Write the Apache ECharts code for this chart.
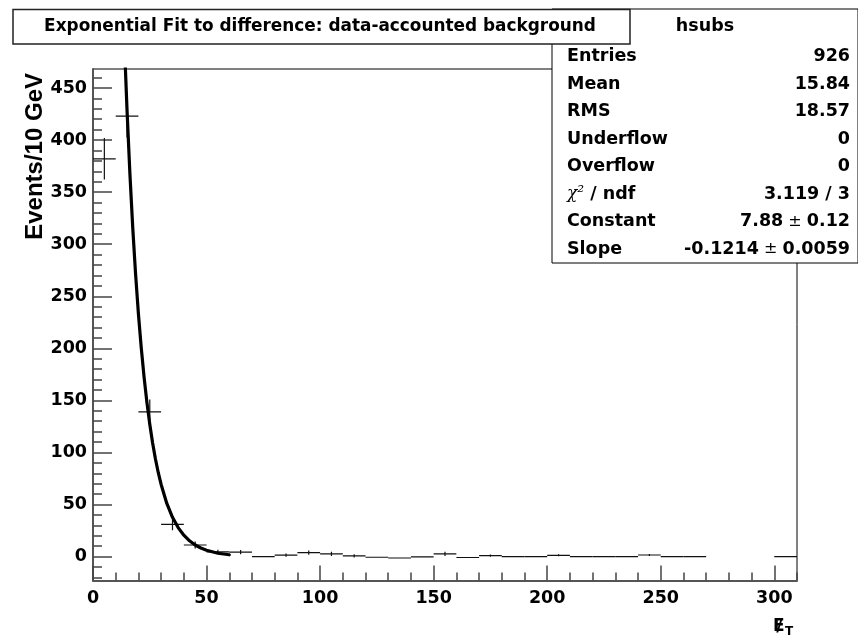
<!DOCTYPE html>
<html>
<head>
<meta charset="utf-8">
<script src="https://cdn.jsdelivr.net/npm/echarts@6/dist/echarts.min.js"></script>
<style>
html,body{margin:0;padding:0;background:#fff;}
#chart{width:858px;height:637px;}
</style>
</head>
<body>
<div id="chart"></div>
<script>
// ---- data ----
const binLow   = [0,10,20,30,40,50,60,70,80,90,100,110,120,130,140,150,160,170,180,190,200,210,220,230,240,250,260,270,280,290,300];
const binWidth = 10;
const binValue = [382,423,139,31,11.2,4.5,4.3,0,1.5,3.8,2.7,0.8,-0.6,-1.3,-0.2,2.6,-0.8,1.0,0,0,1.3,0,0,0,1.6,0,0,null,null,null,0];
const binError = [20,20.6,11.8,5.6,3.3,2.1,2,0,1.5,2,2,1.5,0,0,0,2,0,1,0,0,1,0,0,0,1,0,0,null,null,null,0];
const fitX = [14,15,16.25,17.5,18.75,20,21.25,22.5,23.75,25,26.25,27.5,28.75,30,32.5,35,37.5,40,42.5,45,47.5,50,55,60];
const fitY = [483,428,367.8,315.9,271.4,233.2,200.4,172.2,147.9,127.1,109.2,93.8,80.6,69.3,51.1,37.8,27.9,20.6,15.2,11.2,8.3,6.1,3.3,1.8];
const xMajorTicks = [0,50,100,150,200,250,300];
const xMinorTicks = [10,20,30,40,60,70,80,90,110,120,130,140,160,170,180,190,210,220,230,240,260,270,280,290,310];
const yMajorTicks = [0,50,100,150,200,250,300,350,400,450];
const yMinorTicks = [-20,-10,10,20,30,40,60,70,80,90,110,120,130,140,160,170,180,190,210,220,230,240,260,270,280,290,310,320,330,340,360,370,380,390,410,420,430,440,460];
const xRange = [0, 310];
const yRange = [-22.9, 468.2];
const titleText = 'Exponential Fit to difference: data-accounted background';
const statsName = 'hsubs';
const statsLabels = ['Entries','Mean','RMS','Underflow','Overflow','{chi|χ²}{b| / ndf}','Constant','Slope'];
const statsValues = ['926','15.84','18.57','0','0','3.119 / 3','{b|7.88}{pm| ± }{b|0.12}','{b|-0.1214}{pm| ± }{b|0.0059}'];
const yTitle = 'Events/10 GeV';

// ---- chart ----
const FONT = 'DejaVu Sans';
const chart = echarts.init(document.getElementById('chart'), null, {renderer:'canvas'});
const histData = [];
binLow.forEach((lo,i)=>{ if(binValue[i]!==null) histData.push([lo, lo+binWidth, binValue[i], binError[i]]); });
const fitData = fitX.map((x,i)=>[x, fitY[i]]);

const labelStyle = {fontFamily:FONT, fontWeight:'bold', fontSize:17.5, color:'#000'};
const richStats = {
  b:{fontFamily:FONT, fontWeight:'bold', fontSize:17.5, fill:'#000'},
  pm:{fontFamily:FONT, fontWeight:'normal', fontSize:16, fill:'#000'},
  chi:{fontFamily:'DejaVu Serif', fontStyle:'italic', fontWeight:'normal', fontSize:17, fill:'#000'}
};

const graphics = [];
// stats box
const statsLeft = 552, statsTop = 9, statsRight = 858, statsBottom = 263;
graphics.push({type:'rect', z:100, shape:{x:statsLeft, y:statsTop, width:statsRight-statsLeft, height:statsBottom-statsTop},
  style:{fill:'#fff', stroke:'#000', lineWidth:1}});
graphics.push({type:'text', z:101, x:(statsLeft+statsRight)/2, y:26,
  style:{text:statsName, fontFamily:FONT, fontWeight:'bold', fontSize:17.5, fill:'#000', align:'center', verticalAlign:'middle'}});
statsLabels.forEach((lab,i)=>{
  const yy = 56.5 + i*27.5;
  graphics.push({type:'text', z:101, x:567, y:yy,
    style:{text: lab.indexOf('{')===0 ? lab : '{b|'+lab+'}', rich:richStats, align:'left', verticalAlign:'middle'}});
  const val = statsValues[i];
  graphics.push({type:'text', z:101, x:850, y:yy,
    style:{text: val.indexOf('{')===0 ? val : '{b|'+val+'}', rich:richStats, align:'right', verticalAlign:'middle'}});
});
// title box
graphics.push({type:'rect', z:110, shape:{x:13, y:9.5, width:617, height:34.5},
  style:{fill:'#fff', stroke:'#222', lineWidth:1.5}});
graphics.push({type:'text', z:111, x:320, y:27,
  style:{text:titleText, fontFamily:FONT, fontWeight:'bold', fontSize:16.9, fill:'#000', align:'center', verticalAlign:'middle'}});
// y axis title (rotated)
graphics.push({type:'text', z:50, x:47, y:73, rotation:Math.PI/2,
  style:{text:yTitle, fontFamily:'Liberation Sans', fontWeight:'bold', fontSize:24, fill:'#000', align:'right', verticalAlign:'bottom'}});
// x axis title: E with slash, subscript T
graphics.push({type:'text', z:50, x:773, y:627,
  style:{text:'E', fontFamily:FONT, fontWeight:'bold', fontSize:17, fill:'#000', align:'left', verticalAlign:'middle'}});
graphics.push({type:'text', z:51, x:779.5, y:626,
  style:{text:'/', fontFamily:FONT, fontWeight:'bold', fontSize:18, fill:'#000', align:'center', verticalAlign:'middle'}});
graphics.push({type:'text', z:50, x:785, y:632,
  style:{text:'T', fontFamily:FONT, fontWeight:'bold', fontSize:12, fill:'#000', align:'left', verticalAlign:'middle'}});

const option = {
  animation:false,
  backgroundColor:'#fff',
  grid:{left:93, right:61, top:69, bottom:56.5, show:true, borderColor:'#000', borderWidth:1, backgroundColor:'transparent'},
  xAxis:[
    {type:'value', min:xRange[0], max:xRange[1], interval:50, position:'bottom',
     axisLine:{show:true, onZero:false, lineStyle:{color:'#555', width:2}},
     axisTick:{show:true, inside:true, length:15, customValues:xMajorTicks, lineStyle:{color:'#444', width:1.5}},
     axisLabel:{show:true, margin:9, customValues:xMajorTicks, ...labelStyle},
     splitLine:{show:false}},
    {type:'value', min:xRange[0], max:xRange[1], position:'bottom',
     axisLine:{show:false, onZero:false}, axisLabel:{show:false}, splitLine:{show:false},
     axisTick:{show:true, inside:true, length:8, customValues:xMinorTicks, lineStyle:{color:'#444', width:1.5}}}
  ],
  yAxis:[
    {type:'value', min:yRange[0], max:yRange[1], position:'left',
     axisLine:{show:true, onZero:false, lineStyle:{color:'#555', width:2}},
     axisTick:{show:true, inside:true, length:19, customValues:yMajorTicks, lineStyle:{color:'#444', width:1.5}},
     axisLabel:{show:true, margin:6, customValues:yMajorTicks, ...labelStyle},
     splitLine:{show:false}},
    {type:'value', min:yRange[0], max:yRange[1], position:'left',
     axisLine:{show:false, onZero:false}, axisLabel:{show:false}, splitLine:{show:false},
     axisTick:{show:true, inside:true, length:9, customValues:yMinorTicks, lineStyle:{color:'#444', width:1.5}}}
  ],
  series:[
    {type:'custom', xAxisIndex:0, yAxisIndex:0, clip:true, data:histData,
     encode:{x:[0,1], y:[2]},
     renderItem:function(params, api){
       const lo=api.value(0), hi=api.value(1), v=api.value(2), e=api.value(3);
       const a=api.coord([lo,v]), b=api.coord([hi,v]);
       const c=(lo+hi)/2;
       const children=[{type:'line', shape:{x1:a[0],y1:a[1],x2:b[0],y2:b[1]}, style:{stroke:'#111', lineWidth:1.2}}];
       if(e>0){
         const t=api.coord([c,v+e]), u=api.coord([c,v-e]);
         children.push({type:'line', shape:{x1:t[0],y1:t[1],x2:u[0],y2:u[1]}, style:{stroke:'#111', lineWidth:1.2}});
       }
       return {type:'group', children:children};
     }},
    {type:'line', xAxisIndex:0, yAxisIndex:0, data:fitData, clip:true, showSymbol:false, symbol:'none',
     smooth:false,
     lineStyle:{color:'#000', width:3.2, join:'round', cap:'round'}, z:5}
  ],
  graphic:graphics
};
chart.setOption(option);
</script>
</body>
</html>
